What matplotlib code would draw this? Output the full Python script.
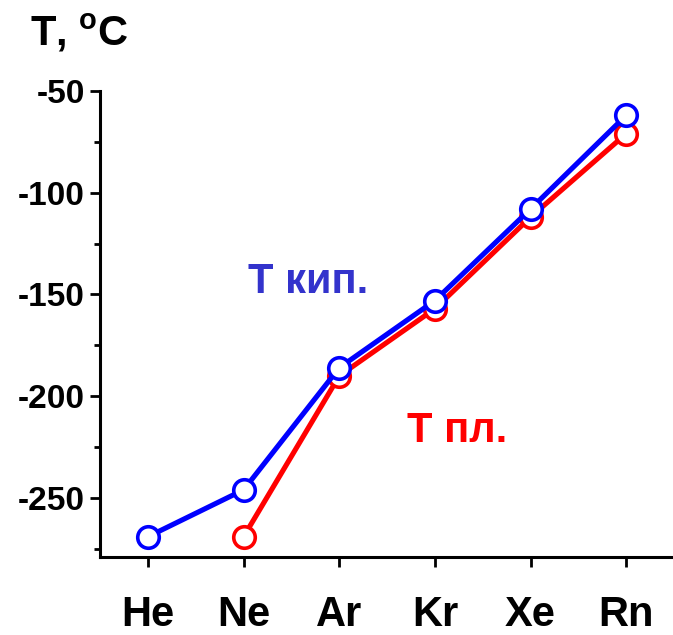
import matplotlib
matplotlib.use("Agg")
import matplotlib.pyplot as plt

elements = ["He", "Ne", "Ar", "Kr", "Xe", "Rn"]
t_boil = [-269, -246, -186, -153, -108, -62]
melt_elements = ["Ne", "Ar", "Kr", "Xe", "Rn"]
t_melt = [-269, -190, -157, -112, -71]
y_major = [-250, -200, -150, -100, -50]
y_minor = [-275, -225, -175, -125, -75]

plt.rcParams['font.family'] = ['Liberation Sans', 'DejaVu Sans']
plt.rcParams['font.weight'] = 'bold'
plt.rcParams['mathtext.fontset'] = 'custom'
plt.rcParams['mathtext.rm'] = 'Liberation Sans:bold'
plt.rcParams['mathtext.bf'] = 'Liberation Sans:bold'

fig = plt.figure(figsize=(6.73, 6.35), dpi=100)
ax = fig.add_axes([100/673, 78/635, 573/673, 466/635])

xb = [elements.index(e) for e in elements]
xm = [elements.index(e) for e in melt_elements]

ax.plot(xm, t_melt, color='#ff0000', lw=3.7, marker='o', ms=15.5,
        mfc='white', mec='#ff0000', mew=2.6, zorder=3, clip_on=False)
ax.plot(xb, t_boil, color='#0000ff', lw=3.7, marker='o', ms=15.5,
        mfc='white', mec='#0000ff', mew=2.6, zorder=4, clip_on=False)

ax.set_xlim(-0.502, 5.49)
ax.set_ylim(-279, -50)
ax.set_xticks(range(len(elements)))
ax.set_xticklabels(elements, fontsize=30, fontweight='bold')
ax.set_yticks(y_major)
ax.set_yticklabels([str(v) for v in y_major], fontsize=24, fontweight='bold')
ax.set_yticks(y_minor, minor=True)

for s in ['top', 'right']:
    ax.spines[s].set_visible(False)
for s in ['left', 'bottom']:
    ax.spines[s].set_linewidth(2.2)
ax.tick_params(axis='both', which='major', direction='out', length=7, width=2, color='black')
ax.tick_params(axis='y', which='minor', direction='out', length=4, width=2, color='black')
ax.tick_params(axis='x', which='major', pad=20)
ax.tick_params(axis='y', which='major', pad=4)

ax.text(1.046, -149.3, "T кип.", color='#3333cc', fontsize=30, fontweight='bold',
        ha='left', va='baseline')
ax.text(2.71, -222.5, "T пл.", color='#ff0000', fontsize=30, fontweight='bold',
        ha='left', va='baseline')

fig.text(30/673, 1 - 45/635, r"T, $^{\mathregular{o}}$C", fontsize=30, fontweight='bold',
         ha='left', va='baseline')

fig.savefig("out.png", dpi=100)
